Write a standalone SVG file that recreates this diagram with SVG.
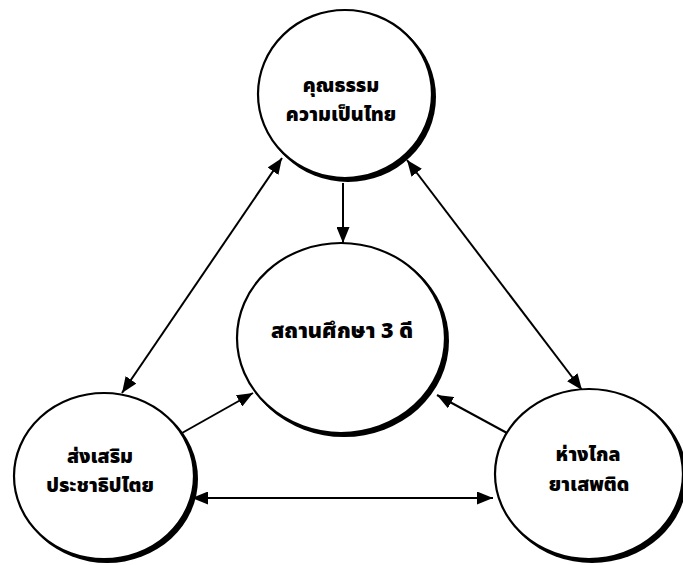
<svg xmlns="http://www.w3.org/2000/svg" width="683" height="565" viewBox="0 0 683 565">
  <style>
    .shadow { fill: #000; stroke: none; }
    .node { fill: #fff; stroke: #000; stroke-width: 2.2; }
    .lbl { font-family: "Noto Sans Thai", "Noto Sans", "DejaVu Sans", sans-serif; font-weight: 900; font-size: 19.5px; fill: #000; text-anchor: middle; }
    .big { font-size: 21.5px; }
    .edge { stroke: #000; stroke-width: 2; fill: none; marker-end: url(#ah); }
    .both { marker-start: url(#ah); }
  </style>
  <defs>
    <marker id="ah" markerUnits="userSpaceOnUse" markerWidth="17" markerHeight="13" refX="16" refY="6.5" orient="auto-start-reverse">
      <path d="M0,0 L16,6.5 L0,13 Z" fill="#000"/>
    </marker>
  </defs>
  <rect width="683" height="565" fill="#fff"/>

  <g id="connectors">
    <path class="edge" d="M343,183 L343,243"/>
    <path class="edge both" d="M122,393 L282,158"/>
    <path class="edge both" d="M407,160 L582,390"/>
    <path class="edge" d="M182,433 L253,393"/>
    <path class="edge" d="M507,433 L437,395"/>
    <path class="edge both" d="M192,498 L493,498"/>
  </g>

  <g id="node-top">
    <ellipse class="shadow" cx="348" cy="97" rx="88" ry="85"/>
    <ellipse class="node" cx="345" cy="94" rx="87" ry="84"/>
    <text class="lbl" x="341" y="92">คุณธรรม</text>
    <text class="lbl" x="341" y="121">ความเป็นไทย</text>
  </g>

  <g id="node-center">
    <ellipse class="shadow" cx="344" cy="341" rx="105" ry="96"/>
    <ellipse class="node" cx="341" cy="338" rx="104" ry="95"/>
    <text class="lbl big" x="342" y="338">สถานศึกษา 3 ดี</text>
  </g>

  <g id="node-left">
    <ellipse class="shadow" cx="107" cy="479" rx="91" ry="84"/>
    <ellipse class="node" cx="104" cy="476" rx="90" ry="83"/>
    <text class="lbl" x="100" y="463">ส่งเสริม</text>
    <text class="lbl" x="100" y="492">ประชาธิปไตย</text>
  </g>

  <g id="node-right">
    <ellipse class="shadow" cx="592" cy="477" rx="95" ry="86"/>
    <ellipse class="node" cx="589" cy="474" rx="94" ry="85"/>
    <text class="lbl" x="588" y="461">ห่างไกล</text>
    <text class="lbl" x="589" y="491">ยาเสพติด</text>
  </g>
</svg>
